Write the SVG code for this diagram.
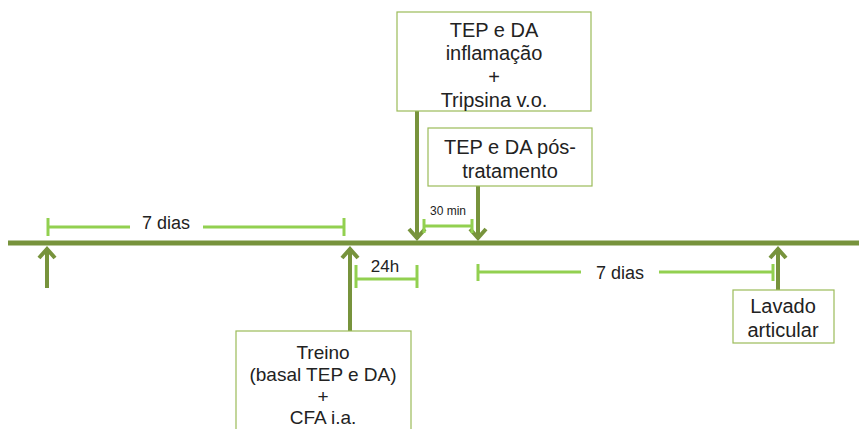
<svg xmlns="http://www.w3.org/2000/svg" width="859" height="429" viewBox="0 0 859 429">
<style>
.box{fill:#fff;stroke:#9BBB59;stroke-width:1.2}
.t{font-family:"Liberation Sans",Arial,sans-serif;font-size:20px;fill:#222;text-anchor:middle}
.s{font-size:19px}
.arr{stroke:#77933C;stroke-width:4;fill:none}
.head{stroke:#77933C;stroke-width:4;fill:none;stroke-linecap:butt}
.br{stroke:#92D050;stroke-width:3;fill:none}
</style>
<rect width="859" height="429" fill="#fff"/>
<g id="connectors">
<line x1="8" y1="243" x2="859" y2="243" stroke="#77933C" stroke-width="5"/>
<line class="arr" x1="47" y1="288" x2="47" y2="248"/>
<polyline class="head" points="39,258 47,249 55,258"/>
<line class="arr" x1="350" y1="331" x2="350" y2="248"/>
<polyline class="head" points="342,258 350,249 358,258"/>
<line class="arr" x1="417" y1="111" x2="417" y2="239"/>
<polyline class="head" points="409,229 417,238 425,229"/>
<line class="arr" x1="478" y1="186" x2="478" y2="239"/>
<polyline class="head" points="470,229 478,238 486,229"/>
<line class="arr" x1="778" y1="290" x2="778" y2="248"/>
<polyline class="head" points="770,258 778,249 786,258"/>
<g class="br">
<line x1="48" y1="227" x2="130" y2="227"/>
<line x1="203" y1="227" x2="344" y2="227"/>
<line x1="48" y1="218" x2="48" y2="236"/>
<line x1="344" y1="218" x2="344" y2="236"/>
<line x1="356" y1="279" x2="417" y2="279"/>
<line x1="356" y1="265" x2="356" y2="288"/>
<line x1="417" y1="265" x2="417" y2="288"/>
<line x1="424" y1="226" x2="472" y2="226"/>
<line x1="424" y1="219" x2="424" y2="233"/>
<line x1="472" y1="219" x2="472" y2="233"/>
<line x1="478" y1="272" x2="581" y2="272"/>
<line x1="659" y1="272" x2="773" y2="272"/>
<line x1="478" y1="264" x2="478" y2="281"/>
<line x1="773" y1="264" x2="773" y2="281"/>
</g>
<text class="t" x="166" y="229" style="font-size:18px">7 dias</text>
<text class="t" x="620" y="279" style="font-size:18px">7 dias</text>
<text class="t" x="385" y="272" style="font-size:17px">24h</text>
<text class="t" x="448" y="215" style="font-size:12px">30 min</text>
</g>
<g id="box-inflamacao">
<rect class="box" x="397" y="12" width="194" height="99"/>
<text class="t" x="494" y="37">TEP e DA</text>
<text class="t" x="494" y="60">inflamação</text>
<text class="t" x="494" y="84">+</text>
<text class="t" x="494" y="107">Tripsina v.o.</text>
</g>
<g id="box-pos">
<rect class="box" x="428" y="128" width="164" height="58"/>
<text class="t" x="510" y="154">TEP e DA pós-</text>
<text class="t" x="510" y="178">tratamento</text>
</g>
<g id="box-treino">
<rect class="box" x="236" y="331" width="175" height="110"/>
<text class="t s" x="323" y="359">Treino</text>
<text class="t s" x="323" y="381">(basal TEP e DA)</text>
<text class="t s" x="323" y="403">+</text>
<text class="t s" x="323" y="424">CFA i.a.</text>
</g>
<g id="box-lavado">
<rect class="box" x="733" y="290" width="101" height="53"/>
<text class="t" x="783" y="313">Lavado</text>
<text class="t" x="783" y="337">articular</text>
</g>
</svg>
